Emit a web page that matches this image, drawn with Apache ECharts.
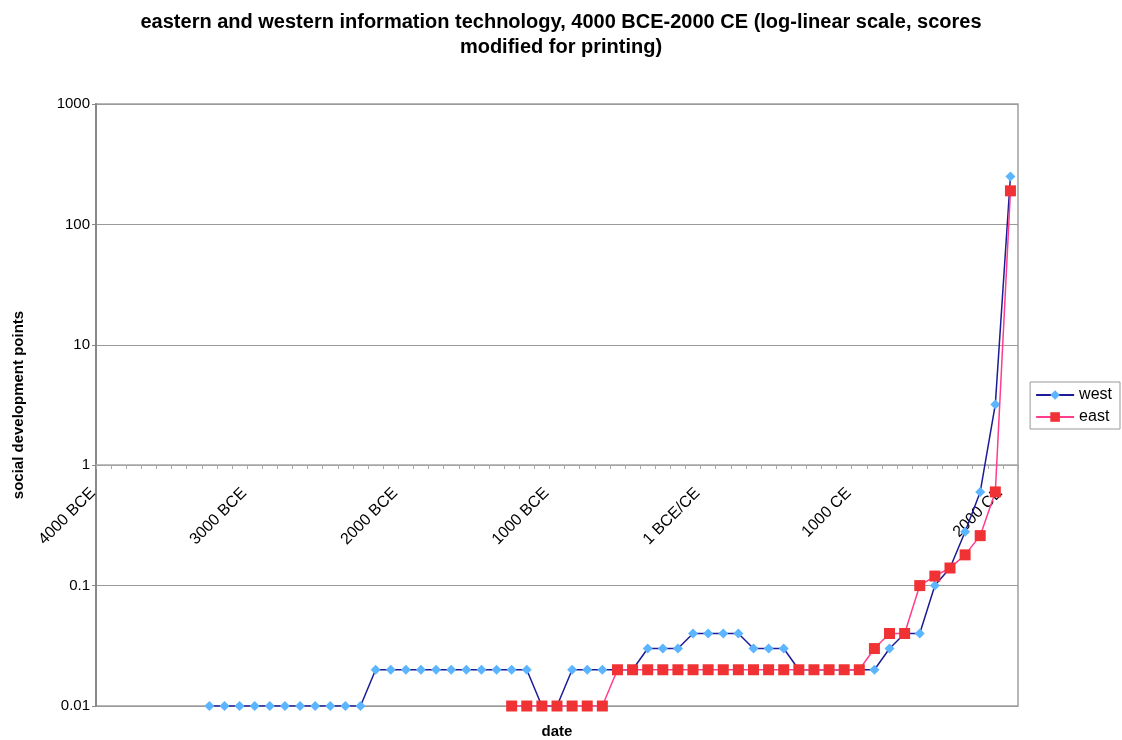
<!DOCTYPE html>
<html>
<head>
<meta charset="utf-8">
<script src="https://cdn.jsdelivr.net/npm/echarts@6/dist/echarts.min.js"></script>
<style>
  html, body { margin: 0; padding: 0; background: #fff; }
  #chart { width: 1122px; height: 740px; }
</style>
</head>
<body>
<div id="chart"></div>
<script>
// one category per century, 4000 BCE .. 2000 CE
var dates = [
  '4000 BCE', '3900 BCE', '3800 BCE', '3700 BCE', '3600 BCE', '3500 BCE', '3400 BCE', '3300 BCE', '3200 BCE', '3100 BCE',
  '3000 BCE', '2900 BCE', '2800 BCE', '2700 BCE', '2600 BCE', '2500 BCE', '2400 BCE', '2300 BCE', '2200 BCE', '2100 BCE',
  '2000 BCE', '1900 BCE', '1800 BCE', '1700 BCE', '1600 BCE', '1500 BCE', '1400 BCE', '1300 BCE', '1200 BCE', '1100 BCE',
  '1000 BCE', '900 BCE', '800 BCE', '700 BCE', '600 BCE', '500 BCE', '400 BCE', '300 BCE', '200 BCE', '100 BCE',
  '1 BCE/CE', '100 CE', '200 CE', '300 CE', '400 CE', '500 CE', '600 CE', '700 CE', '800 CE', '900 CE',
  '1000 CE', '1100 CE', '1200 CE', '1300 CE', '1400 CE', '1500 CE', '1600 CE', '1700 CE', '1800 CE', '1900 CE',
  '2000 CE'
];

var west = [
  null, null, null, null, null, null, null, 0.01, 0.01, 0.01,
  0.01, 0.01, 0.01, 0.01, 0.01, 0.01, 0.01, 0.01, 0.02, 0.02,
  0.02, 0.02, 0.02, 0.02, 0.02, 0.02, 0.02, 0.02, 0.02, 0.01,
  0.01, 0.02, 0.02, 0.02, 0.02, 0.02, 0.03, 0.03, 0.03, 0.04,
  0.04, 0.04, 0.04, 0.03, 0.03, 0.03, 0.02, 0.02, 0.02, 0.02,
  0.02, 0.02, 0.03, 0.04, 0.04, 0.1, 0.14, 0.28, 0.6, 3.2,
  250
];

var east = [
  null, null, null, null, null, null, null, null, null, null,
  null, null, null, null, null, null, null, null, null, null,
  null, null, null, null, null, null, null, 0.01, 0.01, 0.01,
  0.01, 0.01, 0.01, 0.01, 0.02, 0.02, 0.02, 0.02, 0.02, 0.02,
  0.02, 0.02, 0.02, 0.02, 0.02, 0.02, 0.02, 0.02, 0.02, 0.02,
  0.02, 0.03, 0.04, 0.04, 0.1, 0.12, 0.14, 0.18, 0.26, 0.6,
  190
];

var yTicks = [0.01, 0.1, 1, 10, 100, 1000];

var font = '"Liberation Sans", Arial, sans-serif';
var chart = echarts.init(document.getElementById('chart'), null, { renderer: 'canvas' });

var option = {
  animation: false,
  textStyle: { fontFamily: font },
  title: {
    text: 'eastern and western information technology, 4000 BCE-2000 CE (log-linear scale, scores\nmodified for printing)',
    left: 'center',
    top: 5,
    textStyle: { fontSize: 20, fontWeight: 'bold', color: '#000', lineHeight: 25, fontFamily: font }
  },
  legend: {
    orient: 'vertical',
    right: 2,
    top: 382,
    itemWidth: 38,
    itemHeight: 12,
    itemGap: 6,
    padding: [5, 8, 4, 5],
    borderColor: '#999',
    borderWidth: 1,
    borderRadius: 0,
    textStyle: { fontSize: 16, color: '#000', fontFamily: font },
    data: ['west', 'east']
  },
  grid: {
    left: 96,
    top: 104,
    right: 104,
    bottom: 34,
    outerBoundsMode: 'none',
    containLabel: false,
    show: true,
    borderColor: '#a0a0a0',
    borderWidth: 1.5
  },
  xAxis: [
    {
      type: 'category',
      data: dates,
      boundaryGap: true,
      position: 'bottom',
      offset: -241,
      axisLine: { show: true, lineStyle: { color: '#a8a8a8', width: 1.5 } },
      axisTick: { show: true, interval: 0, length: 4, lineStyle: { color: '#a8a8a8' } },
      axisLabel: {
        interval: 9,
        rotate: 45,
        margin: 15,
        padding: [0, 15, 0, 0],
        fontSize: 16,
        color: '#000',
        fontFamily: font
      },
      splitLine: { show: false }
    },
    {
      type: 'category',
      data: dates,
      position: 'bottom',
      axisLine: { show: false },
      axisTick: { show: false },
      axisLabel: { show: false },
      name: 'date',
      nameLocation: 'middle',
      nameGap: 18,
      nameTextStyle: { fontSize: 15, fontWeight: 'bold', color: '#000', fontFamily: font }
    }
  ],
  yAxis: {
    type: 'log',
    logBase: 10,
    min: 0.01,
    max: 1000,
    name: 'social development points',
    nameLocation: 'middle',
    nameGap: 70,
    nameTextStyle: { fontSize: 15, fontWeight: 'bold', color: '#000', fontFamily: font },
    axisLine: { show: true, lineStyle: { color: '#888', width: 2 } },
    axisTick: { show: true, length: 4, lineStyle: { color: '#888' } },
    axisLabel: {
      fontSize: 15,
      color: '#000',
      margin: 6,
      fontFamily: font,
      formatter: function (v) {
        var best = yTicks.reduce(function (a, b) { return Math.abs(Math.log10(b) - Math.log10(v)) < Math.abs(Math.log10(a) - Math.log10(v)) ? b : a; });
        return String(best);
      }
    },
    splitLine: { show: true, lineStyle: { color: '#9a9a9a', width: 1 } }
  },
  series: [
    {
      name: 'west',
      type: 'line',
      data: west,
      symbol: 'diamond',
      symbolSize: 10,
      showAllSymbol: true,
      lineStyle: { color: '#1c1c96', width: 1.5 },
      itemStyle: { color: '#5cb5ff' },
      z: 2
    },
    {
      name: 'east',
      type: 'line',
      data: east,
      symbol: 'rect',
      symbolSize: 11,
      showAllSymbol: true,
      lineStyle: { color: '#ff3d8c', width: 1.5 },
      itemStyle: { color: '#f03234' },
      z: 3
    }
  ]
};

chart.setOption(option);
</script>
</body>
</html>
